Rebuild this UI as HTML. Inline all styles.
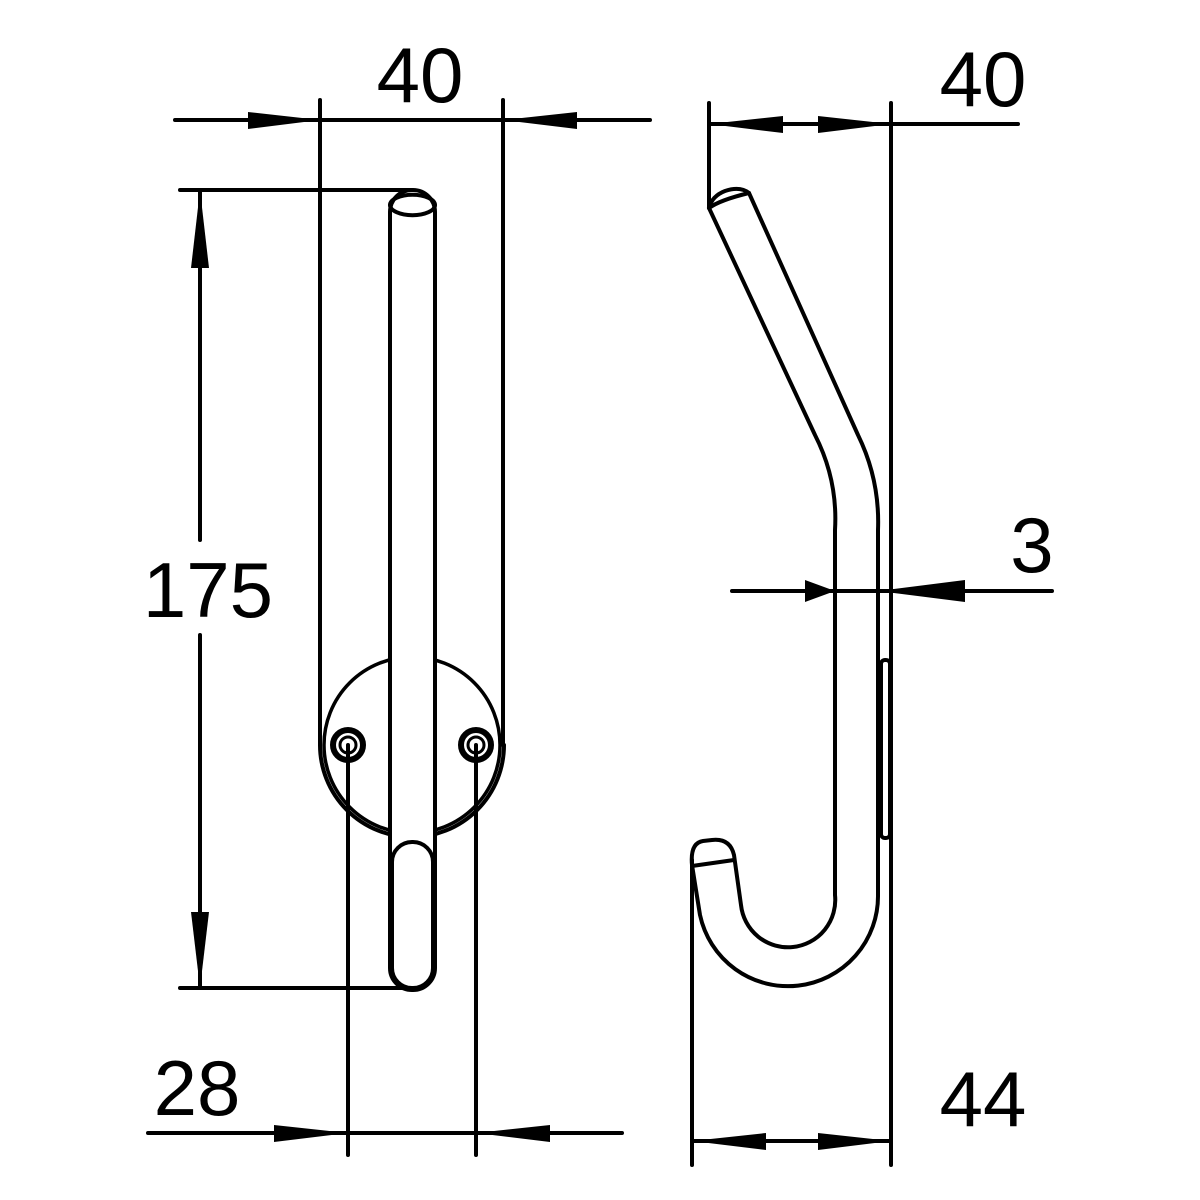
<!DOCTYPE html>
<html><head><meta charset="utf-8"><style>html,body{margin:0;padding:0;background:#fff}svg{display:block}</style></head>
<body>
<svg width="1200" height="1200" viewBox="0 0 1200 1200" xmlns="http://www.w3.org/2000/svg">
<g fill="none" stroke="#000" stroke-width="4" stroke-linecap="round" stroke-linejoin="round">
<!-- LEFT VIEW -->
<line x1="175" y1="120" x2="650" y2="120"/>
<line x1="320" y1="100" x2="320" y2="745"/>
<line x1="503" y1="100" x2="503" y2="745"/>
<path d="M320 745 A92 92 0 0 0 504 745"/>
<circle cx="412" cy="745" r="88" stroke-width="3.5"/>
<line x1="180" y1="190" x2="412" y2="190"/>
<line x1="180" y1="988" x2="412" y2="988"/>
<line x1="200" y1="190" x2="200" y2="540"/>
<line x1="200" y1="635" x2="200" y2="988"/>
<rect x="390" y="190" width="45" height="800" rx="22" fill="#fff"/>
<path d="M390 205 A22 10 0 0 1 435 205"/>
<path d="M390 205 A22 10 0 0 0 435 205"/>
<rect x="392" y="842" width="41" height="146" rx="20"/>
<line x1="348" y1="745" x2="348" y2="1155"/>
<line x1="476" y1="745" x2="476" y2="1155"/>
<circle cx="348" cy="745" r="15" stroke-width="6"/>
<circle cx="348" cy="745" r="8" stroke-width="3"/>
<circle cx="476" cy="745" r="15" stroke-width="6"/>
<circle cx="476" cy="745" r="8" stroke-width="3"/>
<line x1="148" y1="1133" x2="622" y2="1133"/>
<!-- RIGHT VIEW -->
<line x1="709" y1="103" x2="709" y2="208"/>
<line x1="891" y1="103" x2="891" y2="1165"/>
<line x1="709" y1="124" x2="1018" y2="124"/>
<path d="M709 208 L815 435 Q838 480 835 530 L835 895 A47 47 0 0 1 741 905 L734 855 Q730 838 712 840 L703 841 Q690 843 692 865 L700 915 A90 90 0 0 0 878 895 L878 530 Q880 480 858 435 L749 193 Q740 186 725 191 Q712 196 709 208 Z" fill="#fff"/>
<path d="M709 208 Q720 200 749 193"/>
<path d="M692 866 L734 860"/>
<rect x="881" y="660" width="9" height="178" rx="4"/>
<line x1="732" y1="591" x2="1052" y2="591"/>
<line x1="692" y1="860" x2="692" y2="1165"/>
<line x1="692" y1="1141" x2="891" y2="1141"/>
</g>
<g fill="#000">
<polygon points="320,120 248,112 248,129"/>
<polygon points="503,120 577,112 577,129"/>
<polygon points="200,190 191,268 209,268"/>
<polygon points="200,988 191,912 209,912"/>
<polygon points="348,1133 274,1125 274,1142"/>
<polygon points="476,1133 550,1125 550,1142"/>
<polygon points="709,124 783,116 783,133"/>
<polygon points="891,124 818,116 818,133"/>
<polygon points="835,591 805,580 805,602"/>
<polygon points="878,591 965,580 965,602"/>
<polygon points="692,1141 766,1133 766,1150"/>
<polygon points="891,1141 818,1133 818,1150"/>
</g>
<g font-family="Liberation Sans, sans-serif" font-size="78" text-anchor="middle" fill="#000">
<text x="420" y="102">40</text>
<text x="208" y="617">175</text>
<text x="197" y="1115">28</text>
<text x="983" y="106">40</text>
<text x="1032" y="572">3</text>
<text x="983" y="1126">44</text>
</g>
</svg>
</body></html>
